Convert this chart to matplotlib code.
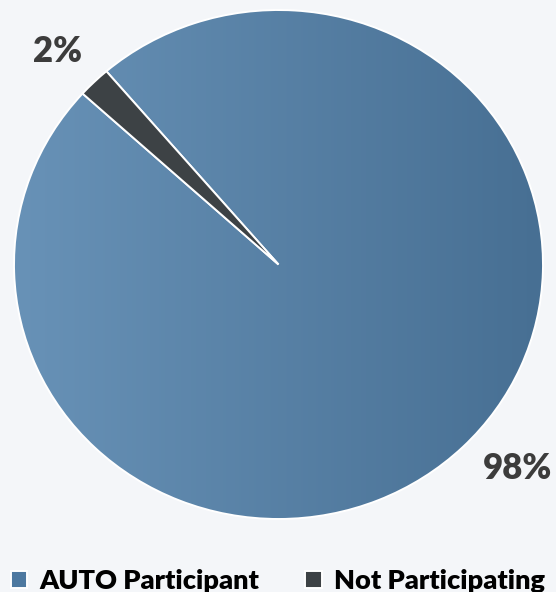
import numpy as np
import matplotlib
matplotlib.use('Agg')
import matplotlib.pyplot as plt
from matplotlib.colors import LinearSegmentedColormap

# data
categories = ['AUTO Participant', 'Not Participating']
shares = [98, 2]
colors = ['#5580a6', '#3d4245']

bg = '#f4f6f9'
plt.rcParams['font.family'] = ['Lato', 'DejaVu Sans']

fig = plt.figure(figsize=(5.56, 5.92), dpi=100, facecolor=bg)
ax = fig.add_axes([14/556, 73/592, 529/556, 509/592])
ax.set_facecolor(bg)

wedges, texts, autotexts = ax.pie(
    shares, colors=colors, startangle=130.6, counterclock=False,
    autopct='%d%%', pctdistance=1.2,
    wedgeprops=dict(edgecolor='white', linewidth=1.4),
    textprops=dict(fontsize=25, fontweight='heavy', color='#3c3c3c'))
ax.set_aspect('auto')
ax.set_xlim(-1, 1)
ax.set_ylim(-1, 1)
ax.axis('off')

# label spots (data-label positions from the original layout)
autotexts[0].set_position((0.905, -0.80))
autotexts[1].set_position((-0.834, 0.835))

# left-to-right gradient on the big slice
grad_cmap = LinearSegmentedColormap.from_list('g', ['#6892b7', '#476f93'])
grad = np.linspace(0, 1, 256).reshape(1, -1)
img = ax.imshow(grad, cmap=grad_cmap, extent=[-1, 1, -1, 1], aspect='auto',
                zorder=wedges[0].get_zorder() - 0.5)
img.set_clip_path(wedges[0])
wedges[0].set_facecolor('none')

leg = fig.legend(wedges, categories, loc='lower center', bbox_to_anchor=(0.5, -0.043),
                 ncol=2, frameon=False, handlelength=0.6, handleheight=0.6,
                 handletextpad=0.45, columnspacing=1.7,
                 prop=dict(size=19.5, weight='heavy'))
leg.legend_handles[0].set_facecolor('#4e79a0')
leg.legend_handles[0].set_edgecolor('white')
leg.legend_handles[1].set_edgecolor('white')
for t in leg.get_texts():
    t.set_color('black')

fig.savefig('out.png', dpi=100, facecolor=bg)
